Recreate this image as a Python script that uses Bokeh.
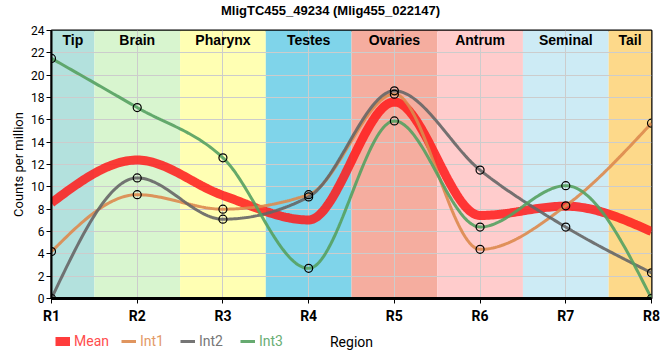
import numpy as np
from bokeh.plotting import figure
from bokeh.layouts import column
from bokeh.models import Legend, LegendItem, FixedTicker
from bokeh.core.properties import value
from bokeh.embed import file_html
from bokeh.resources import INLINE

title_text = "MligTC455_49234 (Mlig455_022147)"
regions = ["R1", "R2", "R3", "R4", "R5", "R6", "R7", "R8"]
tissues = ["Tip", "Brain", "Pharynx", "Testes", "Ovaries", "Antrum", "Seminal", "Tail"]
tissue_colors = ["#b3e1dd", "#d8f5cf", "#ffffb3", "#7fd4ea", "#f5ad9f", "#ffcccc", "#cdebf5", "#fdd98a"]
int1 = [4.2, 9.3, 8.0, 9.3, 18.3, 4.4, 8.3, 15.7]
int2 = [0.0, 10.8, 7.1, 9.1, 18.6, 11.5, 6.4, 2.3]
int3 = [21.5, 17.1, 12.6, 2.7, 15.9, 6.4, 10.1, 0.0]
mean = [float(np.mean(v)) for v in zip(int1, int2, int3)]
y_ticks = list(range(0, 25, 2))
series_names = ["Mean", "Int1", "Int2", "Int3"]

FONT = "Liberation Sans"
AXF = "Roboto"


def monotone(xs, ys, n=40):
    xs = np.asarray(xs, float)
    ys = np.asarray(ys, float)
    m = len(xs)
    h = np.diff(xs)
    s = np.diff(ys) / h
    t = np.zeros(m)
    sg = lambda v: -1.0 if v < 0 else 1.0
    for i in range(1, m - 1):
        p = (s[i - 1] * h[i] + s[i] * h[i - 1]) / (h[i - 1] + h[i])
        t[i] = (sg(s[i - 1]) + sg(s[i])) * min(abs(s[i - 1]), abs(s[i]), 0.5 * abs(p))
    t[0] = (3 * s[0] - t[1]) / 2
    t[-1] = (3 * s[-1] - t[-2]) / 2
    ox, oy = [], []
    for i in range(m - 1):
        u = np.linspace(0, 1, n, endpoint=(i == m - 2))
        h00 = 2 * u**3 - 3 * u**2 + 1
        h10 = u**3 - 2 * u**2 + u
        h01 = -2 * u**3 + 3 * u**2
        h11 = u**3 - u**2
        ox.extend(xs[i] + u * h[i])
        oy.extend(h00 * ys[i] + h10 * h[i] * t[i] + h01 * ys[i + 1] + h11 * h[i] * t[i + 1])
    return ox, oy


xi = list(range(len(regions)))

# title row (frame aligned with the main plot: 51..651 px)
tf = figure(width=660, height=22, output_backend="svg", toolbar_location=None,
            x_range=(51, 651), y_range=(0, 22), min_border=0,
            x_axis_location=None, y_axis_location=None)
tf.outline_line_color = None
tf.grid.visible = False
tf.text(x=[330], y=[12], text=[title_text], text_align="center", text_baseline="middle",
        text_font=value(FONT), text_font_size="13px", text_font_style="bold", text_color="black")

p = figure(width=660, height=304, output_backend="svg", toolbar_location=None,
           x_range=(0, len(regions) - 1), y_range=(0, 24),
           min_border_left=51, min_border_right=9, min_border_top=8, min_border_bottom=26)

# tissue bands
lefts = [max(i - 0.5, 0) for i in xi]
rights = [min(i + 0.5, len(regions) - 1) for i in xi]
p.quad(left=lefts, right=rights, bottom=0, top=24, fill_color=tissue_colors,
       line_color=None, level="image")
p.text(x=[(a + b) / 2 for a, b in zip(lefts, rights)], y=[24] * len(tissues), text=tissues,
       text_align="center", text_baseline="top", y_offset=1,
       text_font=value(FONT), text_font_size="14px", text_font_style="bold", text_color="black")

cols = {"Mean": "#ff1a1a", "Int1": "#dd8a4e", "Int2": "#666666", "Int3": "#55a160"}
lab_cols = {"Mean": "#ff4d4d", "Int1": "#e39a66", "Int2": "#777777", "Int3": "#6aae74"}
widths = {"Mean": 9, "Int1": 3, "Int2": 3, "Int3": 3}
alphas = {"Mean": 0.85, "Int1": 0.9, "Int2": 0.9, "Int3": 0.9}

mx, my = monotone(xi, mean)
p.line(mx, my, line_color=cols["Mean"], line_width=widths["Mean"], line_alpha=alphas["Mean"])
for name, ser in [("Int1", int1), ("Int2", int2), ("Int3", int3)]:
    sx, sy = monotone(xi, ser)
    p.line(sx, sy, line_color=cols[name], line_width=widths[name], line_alpha=alphas[name])
for ser in [int1, int2, int3]:
    p.scatter(xi, ser, size=8, marker="circle", fill_alpha=0, line_color="black", line_width=1.2)

# axes
p.xaxis.ticker = FixedTicker(ticks=xi)
p.xaxis.major_label_overrides = {i: r for i, r in enumerate(regions)}
p.yaxis.ticker = FixedTicker(ticks=y_ticks)
p.yaxis.axis_label = "Counts per million"
for ax in (p.xaxis, p.yaxis):
    ax.axis_label_text_font = AXF
    ax.axis_label_text_font_size = "13px"
    ax.axis_label_text_font_style = "normal"
    ax.axis_label_text_color = "black"
    ax.major_label_text_font = AXF
    ax.major_label_text_color = "black"
    ax.minor_tick_line_color = None
    ax.major_tick_line_color = "black"
    ax.major_tick_out = 5
    ax.major_tick_in = 0
p.xaxis.major_label_text_font_size = "14px"
p.xaxis.major_label_text_font_style = "bold"
p.yaxis.major_label_text_font_size = "12px"
p.xaxis.axis_line_width = 3
p.yaxis.axis_line_width = 2
p.yaxis.axis_label_standoff = 2
p.xaxis.major_label_standoff = 4
p.yaxis.major_label_standoff = 2
p.xgrid.ticker = FixedTicker(ticks=xi)
p.ygrid.ticker = FixedTicker(ticks=y_ticks)
p.grid.grid_line_color = "#cccccc"
p.grid.grid_line_width = 1
p.outline_line_color = "black"
p.outline_line_width = 2
p.background_fill_color = "white"

# legend row with the x-axis title (frame aligned with the main plot: 51..651 px)
q = figure(width=660, height=34, output_backend="svg", toolbar_location=None,
           x_range=(51, 651), y_range=(0, 34), min_border=0,
           x_axis_location=None, y_axis_location=None)
q.outline_line_color = None
q.grid.visible = False
q.background_fill_alpha = 0
q.text(x=[351], y=[19], text=["Region"], text_align="center", text_baseline="middle",
       text_font=value(AXF), text_font_size="14px", text_color="black")

xpos = {"Mean": 4, "Int1": 70, "Int2": 129, "Int3": 189}
for name in series_names:
    # hidden stand-in renderer (outside the visible range) used only for the legend swatch
    r = q.line([-100, -90], [-100, -100], line_color=cols[name], line_width=widths[name],
               line_alpha=alphas[name])
    lg = Legend(items=[LegendItem(label=name, renderers=[r])],
                location=(xpos[name], 10), orientation="horizontal",
                padding=0, margin=0, spacing=0, border_line_color=None,
                background_fill_alpha=0, glyph_width=15, glyph_height=18,
                label_standoff=4, label_text_font=AXF, label_text_font_size="14px",
                label_height=18, label_text_color=lab_cols[name])
    q.add_layout(lg, "center")

layout = column(tf, p, q, spacing=0)
open("out.html", "w").write(file_html(layout, INLINE))
